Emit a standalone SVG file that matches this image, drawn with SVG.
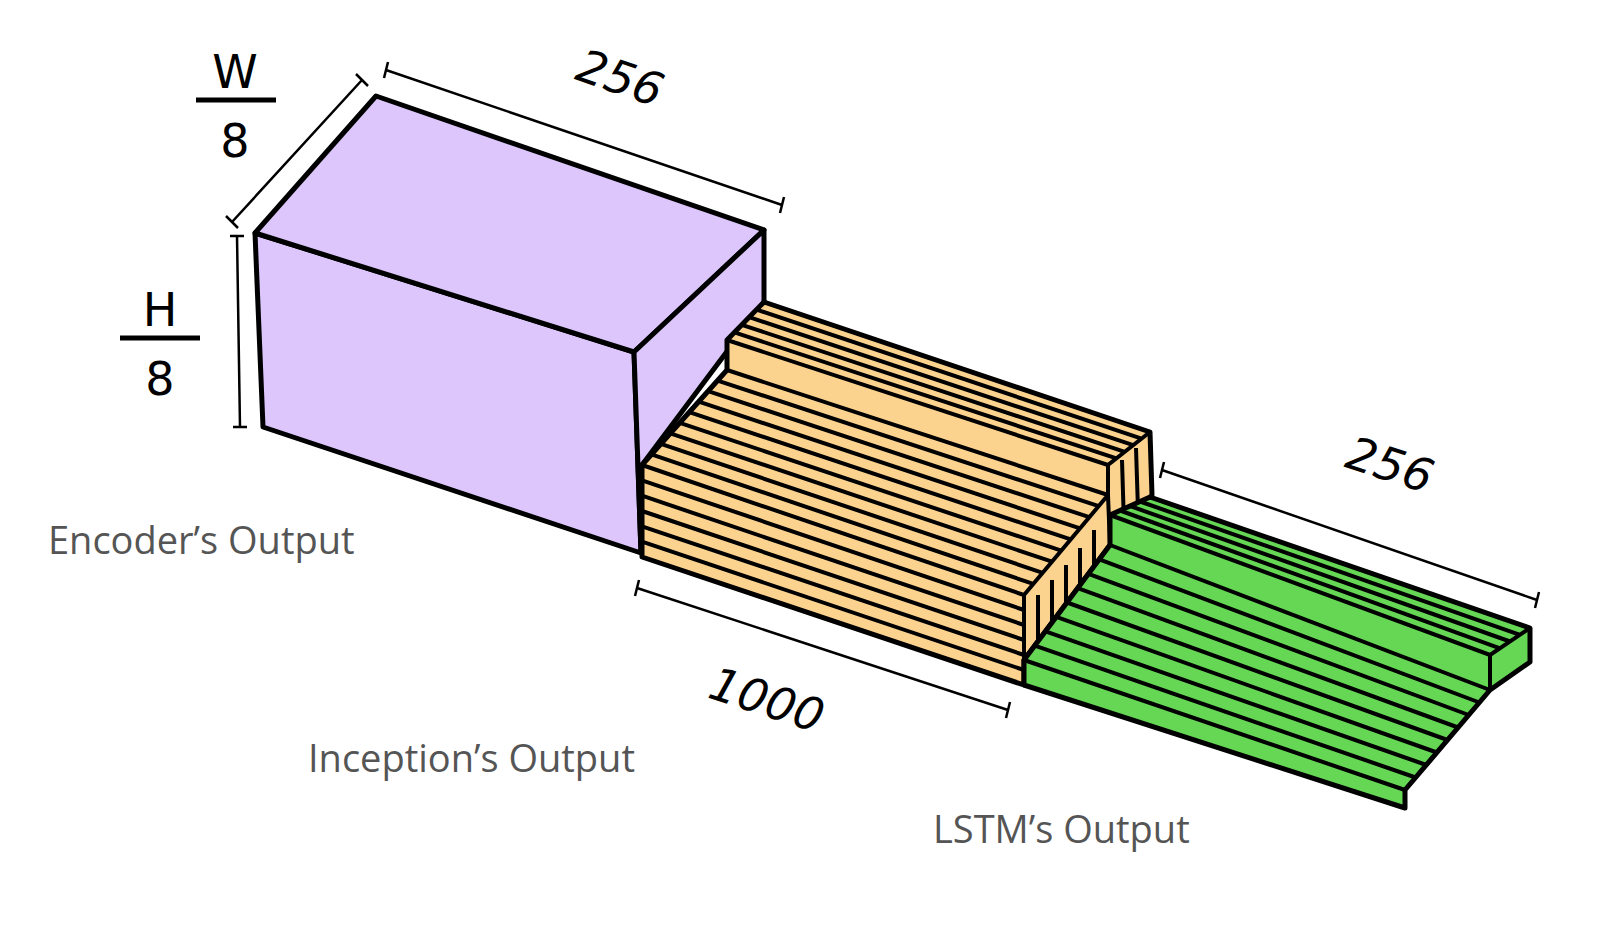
<svg xmlns="http://www.w3.org/2000/svg" width="1618" height="926" viewBox="0 0 1618 926">
<style>
.o{fill:#fbd38f;stroke:#000;stroke-width:5;stroke-linejoin:round}
.p{fill:#dcc6fb;stroke:#000;stroke-width:5;stroke-linejoin:round}
.g{fill:#66d655;stroke:#000;stroke-width:5;stroke-linejoin:round}
.s{stroke:#000;stroke-width:4;fill:none}
.d{stroke:#000;stroke-width:2.5;fill:none}
.n{font-family:"DejaVu Sans",sans-serif;font-size:46px;fill:#000}
.l{font-family:"Open Sans","DejaVu Sans",sans-serif;font-size:38px;fill:#555}
</style>
<rect width="1618" height="926" fill="#fff"/>
<g id="encoder">
<polygon class="p" points="255,233 634,352 641,553 263,427"/>
<polygon class="p" points="255,233 376,96 764,230 634,352"/>
<polygon class="p" points="634,352 764,230 764,302 642,465 641,553"/>
</g>
<g id="inception">
<polygon class="o" points="642,465 727,370 727,340 764,302 1150,432 1152,495 1110,545 1024,660 1024,685 642,557"/>
<path class="s" d="M642,465L1024,595M1024,595L1108,495L1108,465L1150,432M1024,595V685M727,370L1108,495M727,340L1108,465
M651.4,454.4L1033.3,583.9M660.9,443.9L1042.7,572.8M670.3,433.3L1052,561.7M679.8,422.8L1061.3,550.6M689.2,412.2L1070.7,539.4M698.7,401.7L1080,528.3M708.1,391.1L1089.3,517.2M717.6,380.6L1098.7,506.1
M734.4,332.4L1116.4,458.4M741.8,324.8L1124.8,451.8M749.2,317.2L1133.2,445.2M756.6,309.6L1141.6,438.6
M642,480.3L1024,610M642,495.7L1024,625M642,511L1024,640M642,526.3L1024,655M642,541.7L1024,670
M1038,595L1038,670M1052,580L1052,650M1066,565L1066,630M1080,548L1080,610M1094,530L1094,590M1108,495L1110,545M1122,460L1124,525M1136,448L1138,510"/>
</g>
<g id="lstm">
<polygon class="g" points="1024,660 1110,545 1110,515 1150,497 1530,628 1530,662 1490,690 1405,790 1405,808 1024,685"/>
<path class="s" d="M1024,660L1405,790M1110,545L1490,690M1110,515L1490,655L1530,628M1490,655V690
M1034.8,645.6L1415.6,777.5M1045.5,631.3L1426.3,765M1056.3,616.9L1436.9,752.5M1067,602.5L1447.5,740M1077.8,588.1L1458.1,727.5M1088.5,573.8L1468.8,715M1099.3,559.4L1479.4,702.5
M1120,510.5L1500,648.3M1130,506L1510,641.5M1140,501.5L1520,634.8"/>
</g>
<g id="dimensions">
<path class="d" d="M232,222L362,80M226,216L238,228M356,74L368,86
M386,70L782,205M388,62L384,78M784,197L780,213
M237,236L240,427M230,236H244M233,427H247
M637,588L1008,710M639,580L635,596M1010,702L1006,718
M1162,470L1537,600M1164,462L1160,478M1539,592L1535,608"/>
<path d="M196,100H276M120,338H200" stroke="#000" stroke-width="5"/>
</g>
<g id="labels">
<text class="n" x="235" y="88" text-anchor="middle">W</text>
<text class="n" x="235" y="157" text-anchor="middle">8</text>
<text class="n" x="160" y="326" text-anchor="middle">H</text>
<text class="n" x="160" y="395" text-anchor="middle">8</text>
<text class="n" transform="translate(615,93) rotate(19)" text-anchor="middle" font-style="italic">256</text>
<text class="n" transform="translate(762,715) rotate(18)" text-anchor="middle" font-style="italic">1000</text>
<text class="n" transform="translate(1385,480) rotate(18)" text-anchor="middle" font-style="italic">256</text>
<text class="l" x="48" y="554">Encoder’s Output</text>
<text class="l" x="308" y="772">Inception’s Output</text>
<text class="l" x="933" y="843">LSTM’s Output</text>
</g>
</svg>
